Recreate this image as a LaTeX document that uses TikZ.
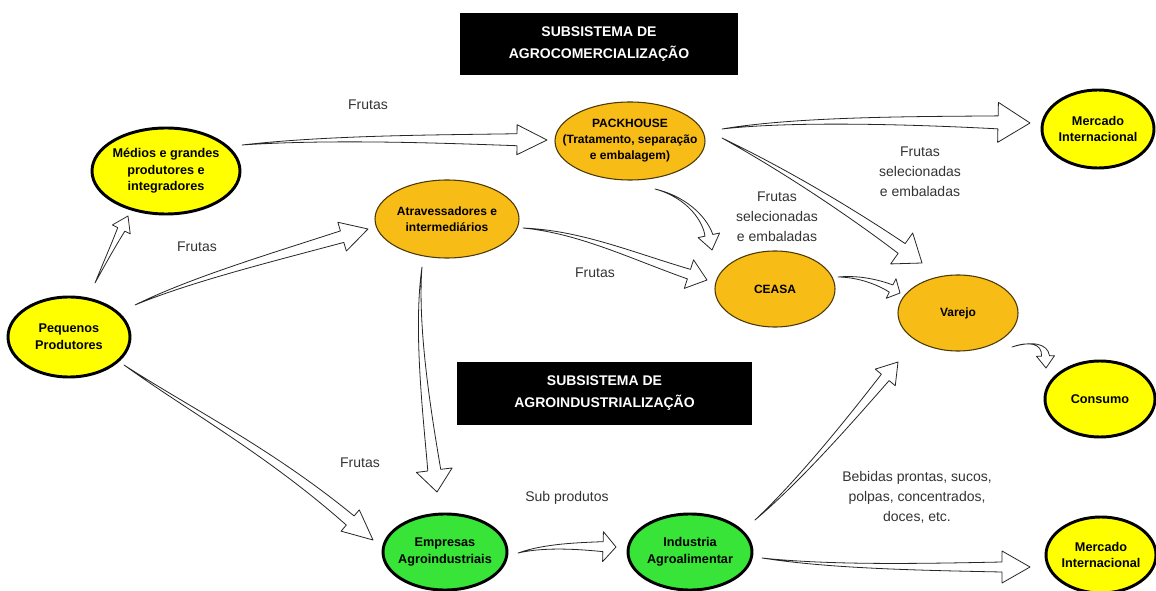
\documentclass[tikz,border=0pt]{standalone}
\usepackage{fontspec}
\setmainfont{Liberation Sans}
\usetikzlibrary{shapes.geometric,calc}
\definecolor{nyellow}{RGB}{255,255,0}
\definecolor{norange}{RGB}{247,188,22}
\definecolor{ngreen}{RGB}{55,228,55}
\tikzset{
  shp/.style={ellipse, inner sep=0pt},
  ynode/.style={shp, fill=nyellow, draw=black, line width=2.2pt},
  onode/.style={shp, fill=norange, draw=black!70!norange, line width=0.8pt},
  gnode/.style={shp, fill=ngreen, draw=black, line width=2.2pt},
  ntxt/.style={align=center, inner sep=0pt, font=\fontsize{9.5}{12.5}\selectfont\bfseries},
  otxt/.style={align=center, inner sep=0pt, font=\fontsize{9}{12}\selectfont\bfseries},
  lbl/.style={align=center, inner sep=0pt, text=black!80, font=\fontsize{10.5}{15}\selectfont},
  hdr/.style={fill=black, text=white, align=center, inner sep=0pt, font=\fontsize{10.5}{16.5}\selectfont\bfseries},
  harr/.style={fill=white, draw=black!85, line width=0.6pt, line join=round},
}
% start, c1, c2, tip, shaft half-width, head half-width, head length (px)
\newcommand\harrow[7]{%
  \coordinate (hb) at ($(#4)!#7*0.75pt!(#3)$);
  \coordinate (sa) at ($(hb)!#5*0.75pt!90:(#4)$);
  \coordinate (sb) at ($(hb)!#5*0.75pt!-90:(#4)$);
  \coordinate (ha) at ($(hb)!#6*0.75pt!90:(#4)$);
  \coordinate (hc) at ($(hb)!#6*0.75pt!-90:(#4)$);
  \coordinate (c1a) at ($(#2)+0.3333*(sa)-0.3333*(hb)$);
  \coordinate (c2a) at ($(#3)+0.6667*(sa)-0.6667*(hb)$);
  \coordinate (c1b) at ($(#2)+0.3333*(sb)-0.3333*(hb)$);
  \coordinate (c2b) at ($(#3)+0.6667*(sb)-0.6667*(hb)$);
  \draw[harr] (#1) .. controls (c1a) and (c2a) .. (sa) -- (ha) -- (#4) -- (hc) -- (sb) .. controls (c2b) and (c1b) .. (#1) -- cycle;
}
\begin{document}
\begin{tikzpicture}[x=0.75pt,y=-0.75pt]
\useasboundingbox[fill=white] (0,0) rectangle (1156,591);

% header boxes
\node[hdr, minimum width=208.5pt, minimum height=46.5pt] (h1) at (599,44) {SUBSISTEMA DE\\AGROCOMERCIALIZAÇÃO};
\node[hdr, minimum width=221pt, minimum height=47pt] (h2) at (604.5,393.5) {SUBSISTEMA DE\\AGROINDUSTRIALIZAÇÃO};

% nodes
\node[ynode, minimum width=91.5pt, minimum height=60pt] (pp) at (69,337) {};
\node[ntxt] (ppt) at (pp) {Pequenos\\Produtores};
\node[ynode, minimum width=111pt, minimum height=64.5pt] (med) at (166,171) {};
\node[ntxt] (medt) at (med) {Médios e grandes\\produtores e\\integradores};
\node[onode, minimum width=108pt, minimum height=58.5pt] (atr) at (447,219) {};
\node[otxt] (atrt) at (atr) {Atravessadores e\\intermediários};
\node[onode, minimum width=112.5pt, minimum height=58.5pt] (pack) at (630,141) {};
\node[otxt] (packt) at (pack) {PACKHOUSE\\(Tratamento, separação\\e embalagem)};
\node[onode, minimum width=90pt, minimum height=57pt] (ceasa) at (775,289) {};
\node[otxt] (ceasat) at (ceasa) {CEASA};
\node[onode, minimum width=90pt, minimum height=57pt] (var) at (958,313) {};
\node[otxt] (vart) at (var) {Varejo};
\node[ynode, minimum width=84pt, minimum height=58.5pt] (mi1) at (1098,129) {};
\node[ntxt] (mi1t) at (mi1) {Mercado\\Internacional};
\node[ynode, minimum width=82.5pt, minimum height=57pt] (cons) at (1100,399) {};
\node[ntxt] (const) at (cons) {Consumo};
\node[ynode, minimum width=82.5pt, minimum height=57pt] (mi2) at (1101,555) {};
\node[ntxt] (mi2t) at (mi2) {Mercado\\Internacional};
\node[gnode, minimum width=93pt, minimum height=57pt] (emp) at (445,552) {};
\node[ntxt] (empt) at (emp) {Empresas\\Agroindustriais};
\node[gnode, minimum width=93pt, minimum height=57pt] (ind) at (690,552) {};
\node[ntxt] (indt) at (ind) {Industria\\Agroalimentar};

% labels
\node[lbl] (l1) at (368,105) {Frutas};
\node[lbl] (l2) at (197,247) {Frutas};
\node[lbl] (l3) at (595,273) {Frutas};
\node[lbl] (l4) at (777,217) {Frutas\\selecionadas\\e embaladas};
\node[lbl] (l5) at (920,172) {Frutas\\selecionadas\\e embaladas};
\node[lbl] (l6) at (360,463) {Frutas};
\node[lbl] (l7) at (567,498) {Sub produtos};
\node[lbl] (l8) at (917,497) {Bebidas prontas, sucos,\\polpas, concentrados,\\doces, etc.};

% connector end points
\coordinate (a1s) at ($(med)+(76,-26)$);   \coordinate (a1t) at ($(pack)+(-83,-1)$);
\coordinate (a2s) at ($(pack)+(92,-12)$);  \coordinate (a2t) at ($(mi1)+(-68,-6)$);
\coordinate (a3s) at ($(pack)+(92,-3)$);   \coordinate (a3t) at ($(var)+(-36,-50)$);
\coordinate (a4s) at ($(pack)+(25,48)$);   \coordinate (a4t) at ($(ceasa)+(-63,-39)$);
\coordinate (a5s) at ($(atr)+(76,9)$);     \coordinate (a5t) at ($(ceasa)+(-68,-9)$);
\coordinate (a6s) at ($(ceasa)+(63,-12)$); \coordinate (a6t) at ($(var)+(-58,-20)$);
\coordinate (a7s) at ($(var)+(54,34)$);    \coordinate (a7t) at ($(cons)+(-54,-31)$);
\coordinate (a8s) at ($(pp)+(26,-54)$);    \coordinate (a8t) at ($(med)+(-38,45)$);
\coordinate (a9s) at ($(pp)+(66,-32)$);    \coordinate (a9t) at ($(atr)+(-79,10)$);
\coordinate (a10s) at ($(pp)+(55,28)$);    \coordinate (a10t) at ($(emp)+(-72,-12)$);
\coordinate (a11s) at ($(atr)+(-25,48)$);  \coordinate (a11t) at ($(emp)+(-8,-60)$);
\coordinate (a12s) at ($(emp)+(73,1)$);    \coordinate (a12t) at ($(ind)+(-74,-5)$);
\coordinate (a13s) at ($(ind)+(65,-32)$);  \coordinate (a13t) at ($(var)+(-60,49)$);
\coordinate (a14s) at ($(ind)+(72,6)$);    \coordinate (a14t) at ($(mi2)+(-71,12)$);

% arrows
\harrow{a1s}{330,137}{440,139}{a1t}{6}{15}{30}
\harrow{a2s}{800,118}{930,121}{a2t}{6.5}{20}{32}
\harrow{a3s}{780,168}{845,208}{a3t}{6}{19}{25}
\harrow{a4s}{690,198}{706,222}{a4t}{4}{11}{15}
\harrow{a5s}{580,232}{630,255}{a5t}{5}{15}{19}
\harrow{a6s}{860,276}{880,283}{a6t}{4}{11}{10}
\harrow{a7s}{1030,341}{1045,343}{a7t}{4}{9}{12}
\harrow{a8s}{105,262}{116,240}{a8t}{4}{10}{15}
\harrow{a9s}{190,280}{270,258}{a9t}{6}{15}{27}
\harrow{a10s}{190,410}{270,452}{a10t}{6}{14}{30}
\harrow{a11s}{415,330}{428,420}{a11t}{6.5}{18}{22}
\harrow{a12s}{545,545}{580,546}{a12t}{5}{15}{13}
\harrow{a13s}{800,480}{850,420}{a13t}{5}{13}{20}
\harrow{a14s}{830,567}{920,567}{a14t}{5}{16}{28}
\end{tikzpicture}
\end{document}
